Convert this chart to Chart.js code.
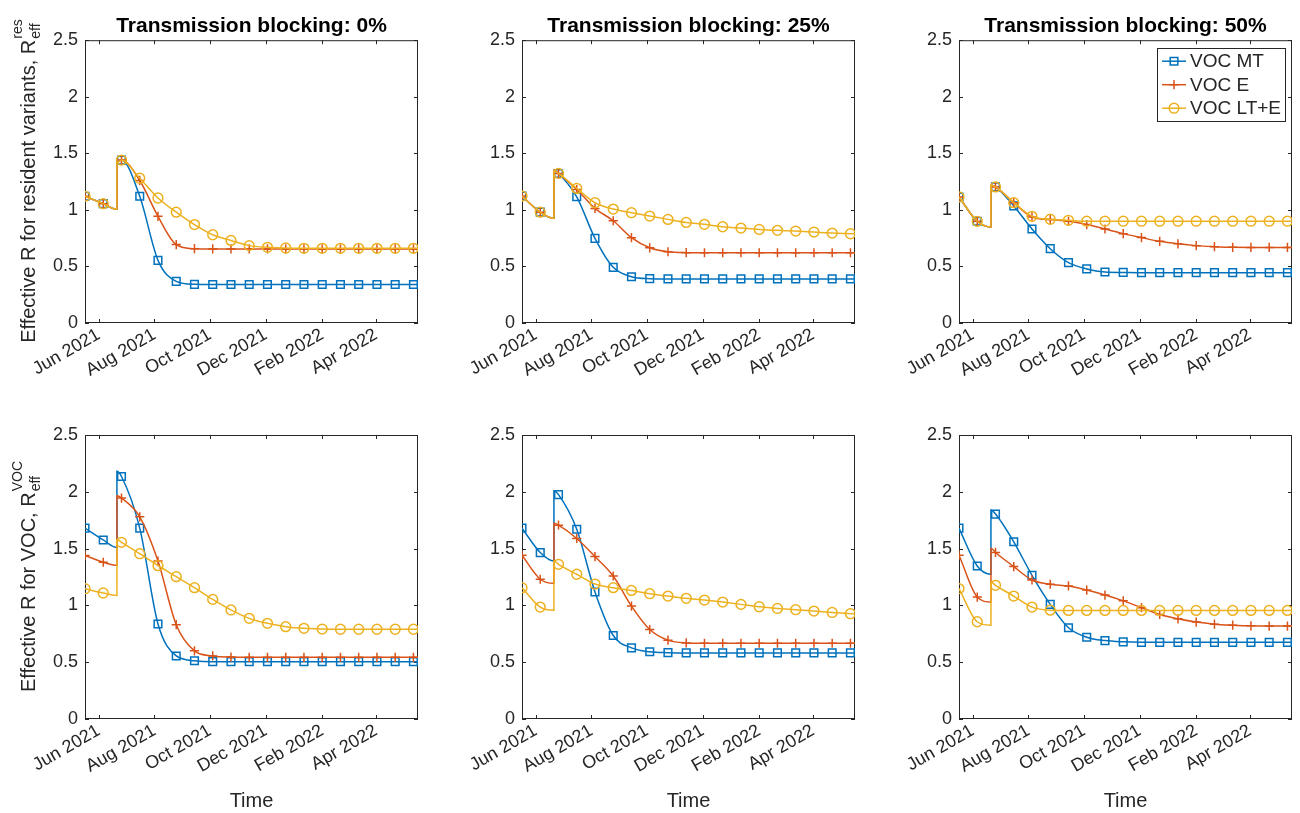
<!DOCTYPE html>
<html>
<head>
<meta charset="utf-8">
<title>Effective R by transmission blocking</title>
<script src="https://cdn.jsdelivr.net/npm/chart.js@4.4.0/dist/chart.umd.min.js"></script>
<style>
  body { margin: 0; background: #fff; width: 1300px; height: 813px; overflow: hidden; position: relative; }
  canvas { position: absolute; }
</style>
</head>
<body>
<canvas id="c1" width="426" height="400" style="left:0;top:0"></canvas>
<canvas id="c2" width="426" height="400" style="left:437px;top:0"></canvas>
<canvas id="c3" width="426" height="400" style="left:874px;top:0"></canvas>
<canvas id="c4" width="426" height="413" style="left:0;top:400px"></canvas>
<canvas id="c5" width="426" height="413" style="left:437px;top:400px"></canvas>
<canvas id="c6" width="426" height="413" style="left:874px;top:400px"></canvas>
<script>
// days since 17 May 2021; the step change happens on day 35 (two entries)
const days = [0, 20, 35, 35, 40, 60, 80, 100, 120, 140, 160, 180, 200, 220, 240, 260, 280, 300, 320, 340, 360, 365];
const tickDays = [15, 76, 137, 198, 260, 319];
const tickLabels = ['Jun 2021', 'Aug 2021', 'Oct 2021', 'Dec 2021', 'Feb 2022', 'Apr 2022'];
const yTicks = [0, 0.5, 1, 1.5, 2, 2.5];
const seriesNames = ['VOC MT', 'VOC E', 'VOC LT+E'];
const blockingLevels = ['0%', '25%', '50%'];

// resident variants, R_eff^res
const res0MT  = [1.12, 1.055, 1.005, 1.42, 1.44, 1.12, 0.554, 0.368, 0.342, 0.34, 0.34, 0.34, 0.34, 0.34, 0.34, 0.34, 0.34, 0.34, 0.34, 0.34, 0.34, 0.34];
const res0E   = [1.12, 1.055, 1.005, 1.42, 1.44, 1.26, 0.943, 0.693, 0.657, 0.655, 0.655, 0.655, 0.655, 0.655, 0.655, 0.655, 0.655, 0.655, 0.655, 0.655, 0.655, 0.655];
const res0LTE = [1.12, 1.055, 1.005, 1.42, 1.44, 1.28, 1.105, 0.98, 0.87, 0.78, 0.73, 0.684, 0.669, 0.663, 0.66, 0.66, 0.66, 0.66, 0.66, 0.66, 0.66, 0.66];

const res25MT  = [1.122, 0.98, 0.925, 1.35, 1.322, 1.116, 0.748, 0.492, 0.409, 0.392, 0.39, 0.39, 0.39, 0.39, 0.39, 0.39, 0.39, 0.39, 0.39, 0.39, 0.39, 0.39];
const res25E   = [1.122, 0.98, 0.925, 1.35, 1.322, 1.18, 1.013, 0.904, 0.754, 0.665, 0.63, 0.622, 0.621, 0.621, 0.621, 0.621, 0.621, 0.621, 0.621, 0.621, 0.621, 0.621];
const res25LTE = [1.122, 0.98, 0.925, 1.35, 1.322, 1.19, 1.063, 1.007, 0.975, 0.945, 0.916, 0.889, 0.872, 0.851, 0.839, 0.827, 0.819, 0.813, 0.804, 0.795, 0.789, 0.788];

const res50MT  = [1.114, 0.899, 0.849, 1.218, 1.203, 1.035, 0.831, 0.657, 0.534, 0.478, 0.451, 0.447, 0.445, 0.445, 0.445, 0.445, 0.445, 0.445, 0.445, 0.445, 0.445, 0.445];
const res50E   = [1.114, 0.899, 0.849, 1.218, 1.203, 1.064, 0.9375, 0.914, 0.899, 0.87, 0.831, 0.79, 0.755, 0.722, 0.70, 0.684, 0.675, 0.669, 0.668, 0.668, 0.668, 0.668];
const res50LTE = [1.114, 0.899, 0.849, 1.218, 1.203, 1.064, 0.943, 0.917, 0.908, 0.90, 0.90, 0.90, 0.90, 0.90, 0.90, 0.90, 0.90, 0.90, 0.90, 0.90, 0.90, 0.90];

// variant of concern, R_eff^VOC
const voc0MT  = [1.68, 1.576, 1.51, 2.18, 2.135, 1.68, 0.836, 0.555, 0.513, 0.505, 0.505, 0.505, 0.505, 0.505, 0.505, 0.505, 0.505, 0.505, 0.505, 0.505, 0.505, 0.505];
const voc0E   = [1.44, 1.38, 1.353, 1.965, 1.945, 1.78, 1.39, 0.83, 0.60, 0.555, 0.545, 0.543, 0.543, 0.543, 0.543, 0.543, 0.543, 0.543, 0.543, 0.543, 0.543, 0.543];
const voc0LTE = [1.147, 1.109, 1.088, 1.58, 1.555, 1.455, 1.35, 1.253, 1.156, 1.053, 0.96, 0.886, 0.842, 0.813, 0.798, 0.792, 0.79, 0.79, 0.79, 0.79, 0.79, 0.79];

const voc25MT  = [1.68, 1.465, 1.39, 2.01, 1.975, 1.67, 1.118, 0.735, 0.626, 0.592, 0.584, 0.582, 0.582, 0.582, 0.582, 0.582, 0.582, 0.582, 0.582, 0.582, 0.582, 0.582];
const voc25E   = [1.442, 1.23, 1.194, 1.724, 1.706, 1.589, 1.43, 1.259, 0.994, 0.788, 0.694, 0.67, 0.667, 0.667, 0.667, 0.667, 0.667, 0.667, 0.667, 0.667, 0.667, 0.667];
const voc25LTE = [1.156, 0.985, 0.958, 1.391, 1.362, 1.274, 1.188, 1.156, 1.132, 1.103, 1.082, 1.062, 1.047, 1.029, 1.009, 0.988, 0.973, 0.962, 0.95, 0.938, 0.927, 0.926];

const voc50MT  = [1.68, 1.347, 1.274, 1.839, 1.804, 1.56, 1.265, 1.009, 0.803, 0.72, 0.69, 0.679, 0.675, 0.675, 0.675, 0.675, 0.675, 0.675, 0.675, 0.675, 0.675, 0.675];
const voc50E   = [1.442, 1.073, 1.03, 1.504, 1.466, 1.342, 1.224, 1.186, 1.171, 1.135, 1.091, 1.04, 0.98, 0.92, 0.882, 0.853, 0.835, 0.826, 0.82, 0.818, 0.818, 0.818];
const voc50LTE = [1.148, 0.856, 0.826, 1.206, 1.177, 1.082, 0.985, 0.958, 0.956, 0.956, 0.956, 0.956, 0.956, 0.956, 0.956, 0.956, 0.956, 0.956, 0.956, 0.956, 0.956, 0.956];

const colors = ['#0072BD', '#D95319', '#EDB120'];
const markers = ['rect', 'cross', 'circle'];
const markerSizes = [5.4, 4.6, 4.9];
const textColor = '#262626';
const fontFamily = '"Liberation Sans", Arial, Helvetica, sans-serif';

// box around the axes with inward tick marks (MATLAB style)
const framePlugin = {
  id: 'frame',
  beforeDatasetsDraw(chart) {
    const { ctx, chartArea: a, scales } = chart;
    ctx.save();
    ctx.strokeStyle = textColor;
    ctx.lineWidth = 1;
    ctx.strokeRect(a.left + 0.5, a.top + 0.5, a.width - 1, a.height - 1);
    ctx.beginPath();
    tickDays.forEach(d => {
      const px = Math.round(scales.x.getPixelForValue(d)) + 0.5;
      ctx.moveTo(px, a.bottom); ctx.lineTo(px, a.bottom - 4);
      ctx.moveTo(px, a.top); ctx.lineTo(px, a.top + 4);
    });
    yTicks.forEach(v => {
      const py = Math.round(scales.y.getPixelForValue(v)) + 0.5;
      ctx.moveTo(a.left, py); ctx.lineTo(a.left + 4, py);
      ctx.moveTo(a.right, py); ctx.lineTo(a.right - 4, py);
    });
    ctx.stroke();
    ctx.restore();
  }
};

// rotated y label with super/subscript
const yLabelPlugin = {
  id: 'yLabel',
  afterDraw(chart, args, opts) {
    if (!opts.main) return;
    const { ctx, chartArea } = chart;
    const cy = (chartArea.top + chartArea.bottom) / 2;
    ctx.save();
    ctx.translate(28, cy);
    ctx.rotate(-Math.PI / 2);
    ctx.fillStyle = textColor;
    ctx.textAlign = 'left';
    ctx.textBaseline = 'alphabetic';
    const big = '20px ' + fontFamily;
    const small = '14px ' + fontFamily;
    ctx.font = big;
    const mw = ctx.measureText(opts.main).width;
    ctx.font = small;
    const sw = Math.max(ctx.measureText(opts.sup).width, ctx.measureText(opts.sub).width);
    const x0 = -(mw + sw) / 2;
    ctx.font = big;
    ctx.fillText(opts.main, x0, 7);
    ctx.font = small;
    ctx.fillText(opts.sup, x0 + mw + 1, -6);
    ctx.fillText(opts.sub, x0 + mw + 1, 12);
    ctx.restore();
  }
};

// MATLAB-like legend box inside the axes
const boxLegendPlugin = {
  id: 'boxLegend',
  afterDraw(chart, args, opts) {
    if (!opts.show) return;
    const { ctx, chartArea: a } = chart;
    ctx.save();
    ctx.font = '19px ' + fontFamily;
    const ds = chart.data.datasets;
    const tw = Math.max(...ds.map(d => ctx.measureText(d.label).width));
    const w = 5 + 24 + 4 + tw + 4;
    const h = 73;
    const x = a.right - 7 - w;
    const y = a.top + 8;
    ctx.fillStyle = '#fff';
    ctx.fillRect(x, y, w, h);
    ctx.strokeStyle = textColor;
    ctx.lineWidth = 1;
    ctx.strokeRect(Math.round(x) + 0.5, Math.round(y) + 0.5, Math.round(w), h);
    ds.forEach((d, i) => {
      const ry = y + 13 + i * 23.5;
      ctx.strokeStyle = d.borderColor;
      ctx.lineWidth = 1.5;
      ctx.beginPath();
      ctx.moveTo(x + 5, ry); ctx.lineTo(x + 29, ry);
      ctx.stroke();
      ctx.fillStyle = 'rgba(0,0,0,0)';
      Chart.helpers.drawPoint(ctx, { pointStyle: d.pointStyle, radius: d.legendRadius, borderWidth: 1.5, rotation: 0 }, x + 17, ry);
      ctx.fillStyle = textColor;
      ctx.textBaseline = 'middle';
      ctx.fillText(d.label, x + 33, ry + 1);
    });
    ctx.restore();
  }
};

function makePanel(id, row, col, seriesValues) {
  const datasets = seriesValues.map((vals, i) => ({
    label: seriesNames[i],
    data: days.map((d, k) => ({ x: d, y: vals[k] })),
    borderColor: colors[i],
    backgroundColor: 'rgba(0,0,0,0)',
    borderWidth: 1.5,
    cubicInterpolationMode: 'monotone',
    pointStyle: markers[i],
    legendRadius: markerSizes[i],
    pointRadius: ctx => (days[ctx.dataIndex] % 20 === 0 ? markerSizes[i] : 0),
    pointBorderWidth: 1.5,
    pointBorderColor: colors[i],
    pointBackgroundColor: 'rgba(0,0,0,0)',
    order: 3 - i
  }));

  const tickFont = { family: fontFamily, size: 18 };
  const yLabel = col !== 0 ? {} : row === 0
    ? { main: 'Effective R for resident variants, R', sup: 'res', sub: 'eff' }
    : { main: 'Effective R for VOC, R', sup: 'VOC', sub: 'eff' };

  new Chart(document.getElementById(id), {
    type: 'line',
    data: { datasets },
    plugins: [framePlugin, yLabelPlugin, boxLegendPlugin],
    options: {
      responsive: false,
      animation: false,
      events: [],
      layout: { padding: { left: 0, right: 8, top: row === 0 ? 0 : 35, bottom: 0 } },
      plugins: {
        legend: { display: false },
        tooltip: { enabled: false },
        title: {
          display: row === 0,
          fullSize: false,
          text: 'Transmission blocking: ' + blockingLevels[col],
          color: '#000',
          font: { family: fontFamily, size: 21, weight: 'bold' },
          padding: { top: 14, bottom: 1 }
        },
        yLabel: yLabel,
        boxLegend: { show: row === 0 && col === 2 }
      },
      scales: {
        x: {
          type: 'linear',
          min: 0,
          max: 365,
          afterBuildTicks: s => { s.ticks = tickDays.map(v => ({ value: v })); },
          afterFit: s => { s.height = row === 0 ? 77 : 94; },
          grid: { display: false, drawTicks: false },
          border: { display: false },
          ticks: {
            autoSkip: false,
            minRotation: 30,
            maxRotation: 30,
            padding: 1,
            color: textColor,
            font: tickFont,
            callback: (v, i) => tickLabels[i]
          },
          title: {
            display: row === 1,
            text: 'Time',
            color: textColor,
            font: { family: fontFamily, size: 20 },
            padding: 0
          }
        },
        y: {
          min: 0,
          max: 2.5,
          afterBuildTicks: s => { s.ticks = yTicks.map(v => ({ value: v })); },
          afterFit: s => { s.width = 85; },
          grid: { display: false, drawTicks: false },
          border: { display: false },
          ticks: {
            padding: 7,
            color: textColor,
            font: tickFont,
            callback: v => String(v)
          }
        }
      }
    }
  });
}

makePanel('c1', 0, 0, [res0MT, res0E, res0LTE]);
makePanel('c2', 0, 1, [res25MT, res25E, res25LTE]);
makePanel('c3', 0, 2, [res50MT, res50E, res50LTE]);
makePanel('c4', 1, 0, [voc0MT, voc0E, voc0LTE]);
makePanel('c5', 1, 1, [voc25MT, voc25E, voc25LTE]);
makePanel('c6', 1, 2, [voc50MT, voc50E, voc50LTE]);
</script>
</body>
</html>
